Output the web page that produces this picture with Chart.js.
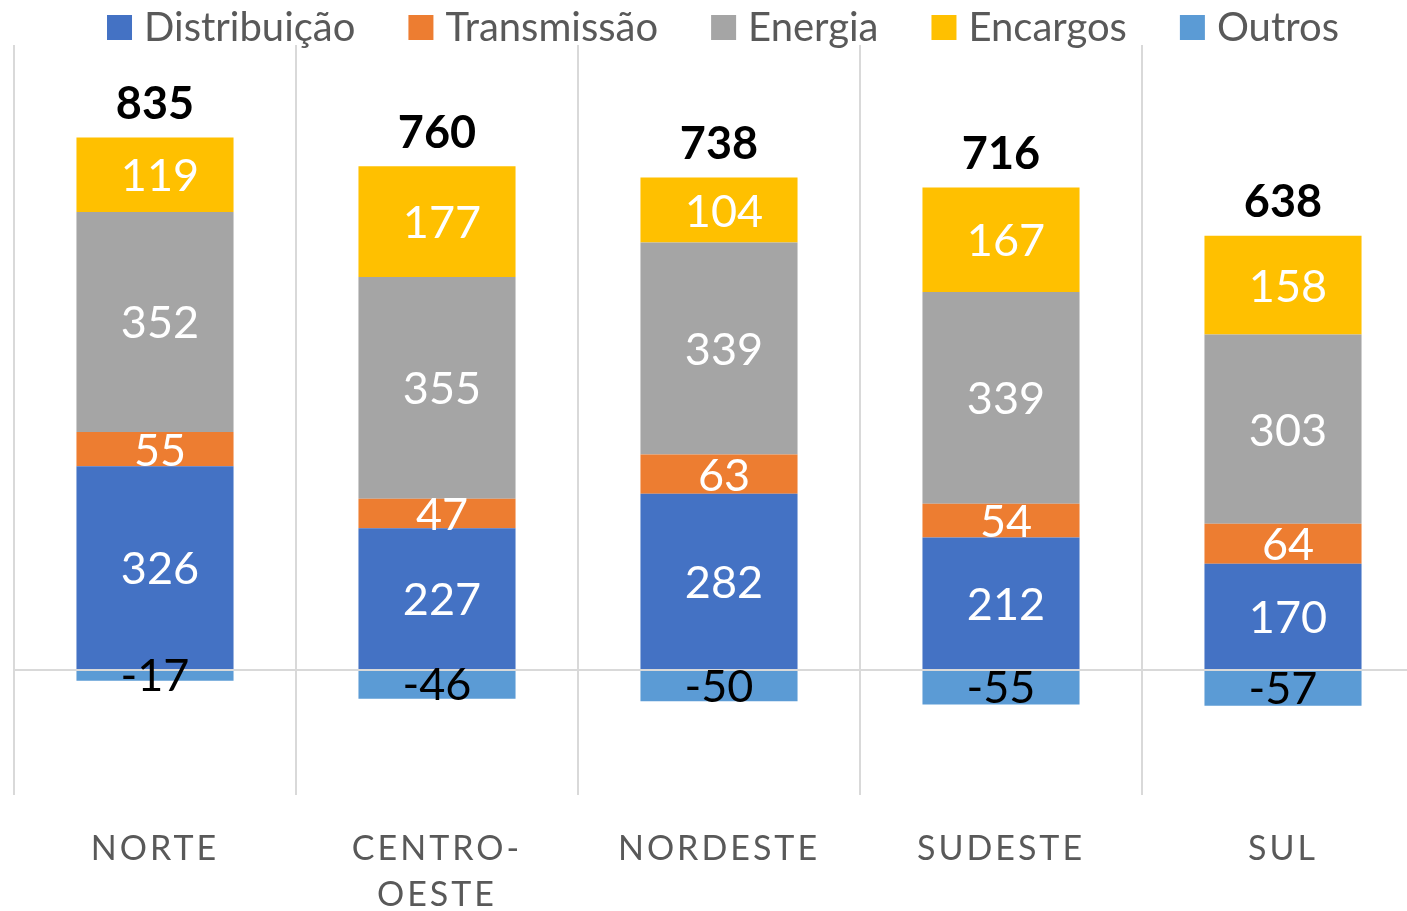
<!DOCTYPE html>
<html>
<head>
<meta charset="utf-8">
<script src="https://cdn.jsdelivr.net/npm/chart.js@4/dist/chart.umd.min.js"></script>
<style>
  html, body { margin: 0; padding: 0; background: #fff; overflow: hidden; }
  canvas { display: block; }
</style>
</head>
<body>
<canvas id="tarifaChart" width="1424" height="949"></canvas>
<script>
const regions = ['NORTE', ['CENTRO-', 'OESTE'], 'NORDESTE', 'SUDESTE', 'SUL'];
const distribuicao = [326, 227, 282, 212, 170];
const transmissao = [55, 47, 63, 54, 64];
const energia = [352, 355, 339, 339, 303];
const encargos = [119, 177, 104, 167, 158];
const outros = [-17, -46, -50, -55, -57];
const totals = [835, 760, 738, 716, 638];

const FONT = 'Lato';

// value labels inside the segments, totals above, then letter spacing for the x labels
const labelPlugin = {
    id: 'labelPlugin',
    afterDatasetsDraw(chart) {
        const ctx = chart.ctx;
        ctx.save();
        ctx.textAlign = 'center';
        ctx.textBaseline = 'middle';
        chart.data.datasets.forEach((ds, di) => {
            const meta = chart.getDatasetMeta(di);
            meta.data.forEach((bar, i) => {
                const v = ds.data[i];
                const cy = (bar.y + bar.base) / 2;
                ctx.font = '45px ' + FONT;
                if (v < 0) {
                    ctx.fillStyle = '#000';
                    ctx.fillText(String(v), bar.x, cy + 1);
                } else {
                    ctx.fillStyle = '#fff';
                    ctx.fillText(String(v), bar.x + 5, cy + 2);
                }
            });
        });
        const topMeta = chart.getDatasetMeta(3);
        topMeta.data.forEach((bar, i) => {
            ctx.fillStyle = '#000';
            ctx.font = 'bold 45px ' + FONT;
            ctx.fillText(String(totals[i]), bar.x, bar.y - 33);
        });
        ctx.restore();
        ctx.letterSpacing = '3px';
    },
    afterDraw(chart) {
        const ctx = chart.ctx;
        ctx.letterSpacing = '0px';
        // legend
        ctx.save();
        ctx.font = '40px ' + FONT;
        ctx.textBaseline = 'middle';
        ctx.textAlign = 'left';
        const box = 25, gap = 12, pad = 53;
        const items = chart.data.datasets.map(ds => ({ text: ds.label, color: ds.backgroundColor, w: ctx.measureText(ds.label).width }));
        let total = 0;
        items.forEach((it, k) => { total += box + gap + it.w + (k ? pad : 0); });
        let x = (chart.chartArea.left + chart.chartArea.right) / 2 - total / 2 + 4;
        const cy = 28;
        items.forEach(it => {
            ctx.fillStyle = it.color;
            ctx.fillRect(x, cy - 13, box, box);
            ctx.fillStyle = '#595959';
            ctx.fillText(it.text, x + box + gap, cy);
            x += box + gap + it.w + pad;
        });
        ctx.restore();
    }
};

const ctx = document.getElementById('tarifaChart').getContext('2d');
const tarifaChart = new Chart(ctx, {
    type: 'bar',
    data: {
        labels: regions,
        datasets: [
            { label: 'Distribuição', data: distribuicao, backgroundColor: '#4472C4' },
            { label: 'Transmissão', data: transmissao, backgroundColor: '#ED7D31' },
            { label: 'Energia', data: energia, backgroundColor: '#A5A5A5' },
            { label: 'Encargos', data: encargos, backgroundColor: '#FFC000' },
            { label: 'Outros', data: outros, backgroundColor: '#5B9BD5' }
        ]
    },
    options: {
        responsive: false,
        animation: false,
        events: [],
        barPercentage: 0.557,
        categoryPercentage: 1,
        layout: { padding: { left: 14, top: 45, right: 0, bottom: 0 } },
        plugins: {
            legend: { display: false },
            tooltip: { enabled: false }
        },
        scales: {
            x: {
                stacked: true,
                grid: { color: '#d9d9d9', lineWidth: 2, offset: true, drawTicks: false },
                border: { display: false },
                ticks: {
                    z: 1,
                    color: '#595959',
                    font: { family: FONT, size: 34, lineHeight: 46 / 34 },
                    padding: 31,
                    maxRotation: 0,
                    autoSkip: false
                }
            },
            y: {
                stacked: true,
                min: -200,
                max: 1000,
                grid: {
                    color: c => c.tick.value === 0 ? '#d9d9d9' : 'rgba(0,0,0,0)',
                    lineWidth: 2,
                    drawTicks: false
                },
                border: { display: false },
                ticks: { display: false, stepSize: 200 }
            }
        }
    },
    plugins: [labelPlugin]
});
</script>
</body>
</html>
